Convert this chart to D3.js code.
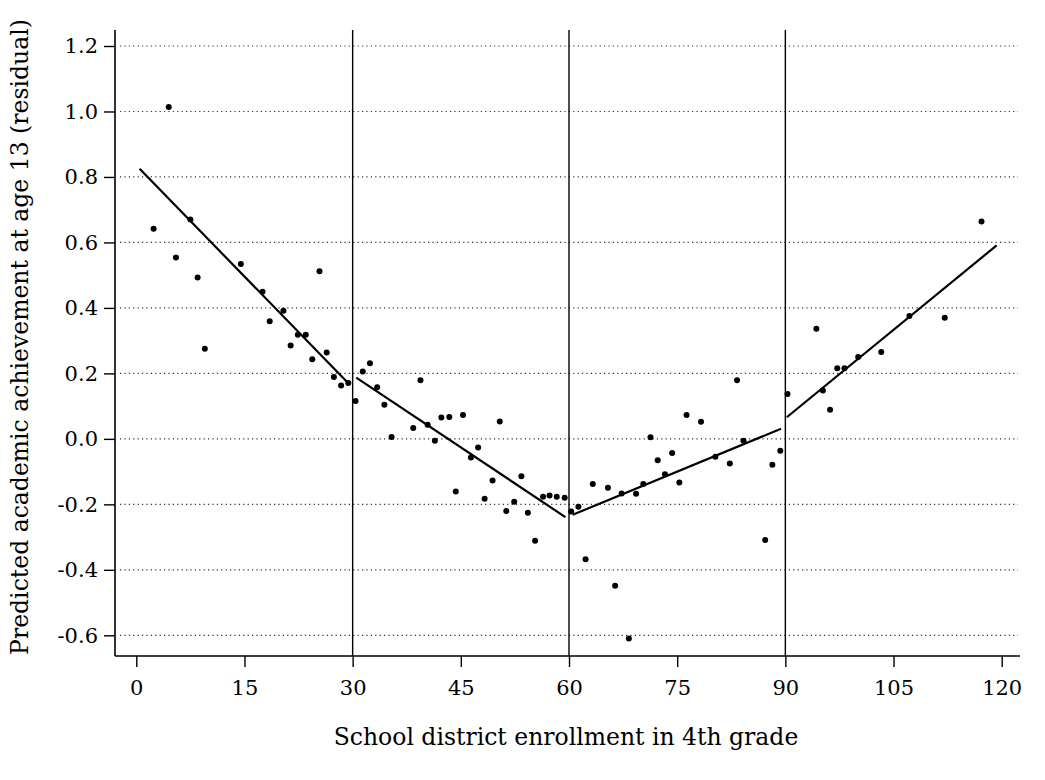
<!DOCTYPE html>
<html><head><meta charset="utf-8">
<script src="https://cdn.jsdelivr.net/npm/d3@7"></script>
<style>body{margin:0;background:#fff;} svg{display:block;}</style>
</head><body>
<svg id="chart" width="1045" height="780"></svg>
<script>
const enrollment = [2.4,4.5,5.5,7.5,8.5,9.5,14.5,17.5,18.5,20.4,21.4,22.4,23.5,24.4,25.4,26.4,27.4,28.4,29.4,30.4,31.4,32.4,33.4,34.4,35.4,38.4,39.4,40.4,41.4,42.3,43.4,44.3,45.3,46.4,47.4,48.3,49.4,50.4,51.3,52.4,53.4,54.3,55.3,56.4,57.3,58.3,59.4,60.3,61.3,62.3,63.3,65.4,66.4,67.3,68.3,69.3,70.3,71.3,72.3,73.3,74.3,75.3,76.3,78.3,80.3,82.3,83.3,84.2,87.2,88.2,89.3,90.3,94.3,95.2,96.2,97.2,98.2,100.1,103.3,107.2,112.1,117.2];
const achievement = [0.642,1.014,0.554,0.670,0.493,0.275,0.534,0.449,0.359,0.391,0.285,0.318,0.318,0.243,0.512,0.264,0.189,0.163,0.171,0.116,0.206,0.231,0.158,0.104,0.006,0.033,0.179,0.043,-0.006,0.065,0.067,-0.161,0.073,-0.057,-0.026,-0.183,-0.127,0.053,-0.220,-0.192,-0.114,-0.226,-0.311,-0.177,-0.173,-0.177,-0.180,-0.222,-0.207,-0.368,-0.138,-0.149,-0.449,-0.167,-0.610,-0.168,-0.138,0.005,-0.065,-0.108,-0.043,-0.133,0.073,0.052,-0.055,-0.075,0.179,-0.006,-0.309,-0.079,-0.036,0.137,0.336,0.148,0.089,0.216,0.216,0.250,0.265,0.375,0.370,0.664];
const fitStartX = [0.46, 30.5, 60.5, 90.2];
const fitStartY = [0.825, 0.187, -0.232, 0.066];
const fitEndX = [29.4, 59.5, 89.4, 119.3];
const fitEndY = [0.170, -0.239, 0.031, 0.591];
const cutoffs = [30, 60, 90];
const xTicks = [0,15,30,45,60,75,90,105,120];
const yTicks = [1.2,1.0,0.8,0.6,0.4,0.2,0.0,-0.2,-0.4,-0.6];
const xTitle = "School district enrollment in 4th grade";
const yTitle = "Predicted academic achievement at age 13 (residual)";

const svg = d3.select("#chart");
const pLeft = 115, pRight = 1020, pTop = 30, pBottom = 656;
const x = d3.scaleLinear().domain([0,120]).range([136.3,1001.7]);
const y = d3.scaleLinear().domain([-0.6,1.2]).range([635.3,46]);
const tickFont = "'DejaVu Serif', Georgia, serif";

// gridlines
svg.append("g").selectAll("line").data(yTicks).join("line")
  .attr("x1", pLeft+5).attr("x2", pRight-2)
  .attr("y1", d=>y(d)).attr("y2", d=>y(d))
  .attr("stroke","#333").attr("stroke-width",1.2).attr("stroke-dasharray","1.2,3.2");

// cutoff vertical lines
svg.append("g").selectAll("line").data(cutoffs).join("line")
  .attr("x1", d=>x(d)).attr("x2", d=>x(d))
  .attr("y1", pTop).attr("y2", pBottom)
  .attr("stroke","#000").attr("stroke-width",1.4);

// y axis
const yAxis = svg.append("g").attr("transform",`translate(${pLeft},0)`)
  .call(d3.axisLeft(y).tickValues(yTicks).tickSize(11).tickPadding(6).tickFormat(d3.format(".1f")));
yAxis.select(".domain").remove();
yAxis.append("line").attr("x1",0).attr("x2",0).attr("y1",pTop).attr("y2",pBottom).attr("stroke","#000").attr("stroke-width",1.6);
yAxis.selectAll(".tick line").attr("stroke","#000").attr("stroke-width",1.4);
yAxis.selectAll(".tick text").attr("font-family",tickFont).attr("font-size",21).attr("fill","#000")
  .text(d=> d3.format(".1f")(d).replace("−","-"));

// x axis
const xAxis = svg.append("g").attr("transform",`translate(0,${pBottom})`)
  .call(d3.axisBottom(x).tickValues(xTicks).tickSize(11).tickPadding(13).tickFormat(d3.format("d")));
xAxis.select(".domain").remove();
xAxis.append("line").attr("x1",pLeft).attr("x2",pRight).attr("y1",0).attr("y2",0).attr("stroke","#000").attr("stroke-width",1.6);
xAxis.selectAll(".tick line").attr("stroke","#000").attr("stroke-width",1.4);
xAxis.selectAll(".tick text").attr("font-family",tickFont).attr("font-size",21).attr("fill","#000");

// fit lines
const segs = fitStartX.map((d,i)=>[[d,fitStartY[i]],[fitEndX[i],fitEndY[i]]]);
const line = d3.line().x(d=>x(d[0])).y(d=>y(d[1]));
svg.append("g").selectAll("path").data(segs).join("path")
  .attr("d", line).attr("fill","none").attr("stroke","#000").attr("stroke-width",2.2);

// points
svg.append("g").selectAll("circle").data(enrollment).join("circle")
  .attr("cx", d=>x(d)).attr("cy", (d,i)=>y(achievement[i]))
  .attr("r", 3).attr("fill","#000");

// titles
svg.append("text").attr("x",566).attr("y",745).attr("text-anchor","middle")
  .attr("font-family",tickFont).attr("font-size",23.5).attr("fill","#000").text(xTitle);
svg.append("text").attr("transform","translate(28,337) rotate(-90)").attr("text-anchor","middle")
  .attr("font-family",tickFont).attr("font-size",23.5).attr("fill","#000").text(yTitle);
</script>
</body></html>
